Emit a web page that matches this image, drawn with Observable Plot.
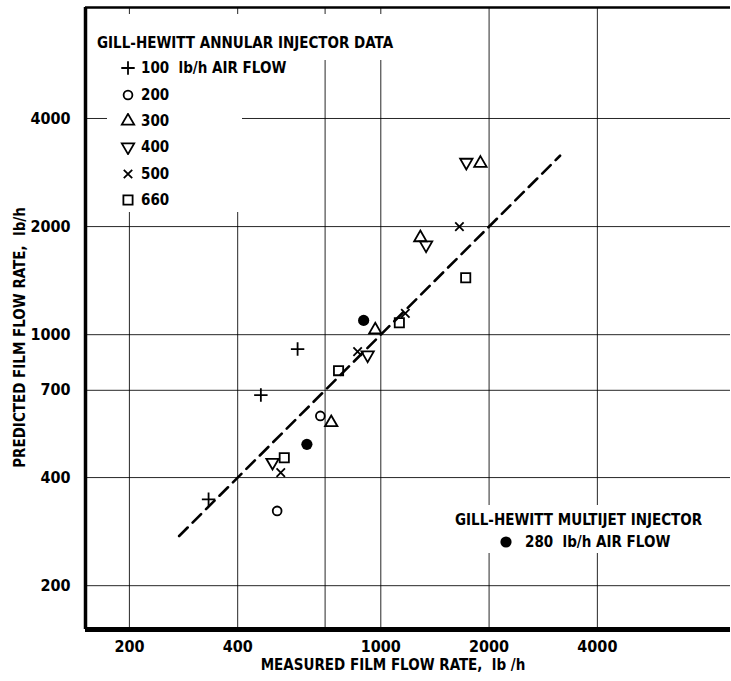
<!DOCTYPE html>
<html><head><meta charset="utf-8">
<script src="https://cdn.jsdelivr.net/npm/d3@7"></script>
<script src="https://cdn.jsdelivr.net/npm/@observablehq/plot@0.6"></script>
<style>
body{margin:0;background:#fff;}
#wrap{position:relative;width:731px;height:681px;font-family:"Liberation Sans Narrow","DejaVu Sans Condensed",sans-serif;font-weight:bold;color:#000;}
#wrap svg{position:absolute;left:0;top:0;}
.bg{position:absolute;background:#fff;}
.lt{position:absolute;white-space:nowrap;font-size:15px;line-height:16px;}
.row{position:absolute;white-space:nowrap;font-size:15px;line-height:16px;}
.row svg{position:absolute;}
</style></head><body><div id="wrap"></div>
<script>
// ---- data ----
const xTicks = [200, 400, 700, 1000, 2000, 4000];
const yTicks = [200, 400, 700, 1000, 2000, 4000];
const xDomain = [151, 9380];
const yDomain = [151, 8150];
const xTitle = "MEASURED FILM FLOW RATE,  lb /h";
const yTitle = "PREDICTED FILM FLOW RATE,  lb/h";

const annularTitle = "GILL-HEWITT ANNULAR INJECTOR DATA";
const annularUnit = "lb/h AIR FLOW";
const annularFlows = [100, 200, 300, 400, 500, 660];
const annularMeasured = [
  [332, 464, 587],
  [515, 679],
  [728, 965, 1288, 1892],
  [500, 919, 1336, 1729],
  [527, 862, 1170, 1654],
  [539, 763, 1126, 1722]
];
const annularPredicted = [
  [348, 679, 912],
  [323, 594],
  [569, 1031, 1863, 3001],
  [441, 878, 1778, 3020],
  [413, 897, 1146, 2000],
  [454, 794, 1080, 1441]
];

const multijetTitle = "GILL-HEWITT MULTIJET INJECTOR";
const multijetFlow = 280;
const multijetMeasured = [623, 896];
const multijetPredicted = [495, 1096];

const fitRange = [275, 3150]; // predicted = measured line

// ---- symbols ----
const triDown = {
  draw(ctx, size) {
    const y = -Math.sqrt(size / (3 * Math.sqrt(3)));
    const s = Math.sqrt(3);
    ctx.moveTo(0, -2 * y);
    ctx.lineTo(s * y, y);
    ctx.lineTo(-s * y, y);
    ctx.closePath();
  }
};
const symbolStyles = [
  {symbol: d3.symbolPlus, r: 4.4},
  {symbol: d3.symbolCircle, r: 4.4},
  {symbol: d3.symbolTriangle, r: 4.6},
  {symbol: triDown, r: 4.6},
  {symbol: d3.symbolTimes, r: 3.9},
  {symbol: d3.symbolSquare, r: 5.2}
];

const annularRows = annularFlows.map((f, i) =>
  annularMeasured[i].map((m, j) => ({flow: f, measured: m, predicted: annularPredicted[i][j]})));
const multijetRows = multijetMeasured.map((m, j) => ({flow: multijetFlow, measured: m, predicted: multijetPredicted[j]}));
const fitRows = fitRange.map(v => ({measured: v, predicted: v}));

const gridStyle = {stroke: "#000", strokeOpacity: 0.85, strokeWidth: 1};

const plot = Plot.plot({
  width: 731,
  height: 681,
  marginLeft: 85,
  marginRight: 1,
  marginTop: 7,
  marginBottom: 52,
  x: {type: "log", domain: xDomain},
  y: {type: "log", domain: yDomain},
  style: {fontFamily: '"Liberation Sans Narrow","DejaVu Sans Condensed",sans-serif', fontWeight: "bold", fontSize: "16px", background: "white", color: "#000"},
  marks: [
    Plot.gridX(xTicks, gridStyle),
    Plot.gridY(yTicks, gridStyle),
    Plot.ruleX([xDomain[0]], {strokeWidth: 3.5}),
    Plot.ruleY([yDomain[0]], {strokeWidth: 5}),
    Plot.ruleY([yDomain[1]], {strokeWidth: 2.5}),
    Plot.axisX(xTicks, {tickSize: 0, tickPadding: 11, tickFormat: d => String(d), label: null}),
    Plot.axisY(yTicks, {tickSize: 0, tickPadding: 15, tickFormat: d => String(d), label: null}),
    Plot.line(fitRows, {x: "measured", y: "predicted", strokeWidth: 2.6, strokeDasharray: "12,7"}),
    ...annularRows.map((rows, i) => Plot.dot(rows, {
      x: "measured", y: "predicted", symbol: symbolStyles[i].symbol, r: symbolStyles[i].r,
      fill: "none", stroke: "#000", strokeWidth: 1.8
    })),
    Plot.dot(multijetRows, {x: "measured", y: "predicted", r: 5.6, fill: "#000", stroke: "none"}),
    Plot.text([xTitle], {frameAnchor: "bottom", dy: 40, dx: -15, fontSize: 15}),
    Plot.text([yTitle], {frameAnchor: "left", textAnchor: "middle", rotate: -90, dx: -65, dy: 19, fontSize: 15})
  ]
});

const wrap = document.getElementById("wrap");
wrap.appendChild(plot);

function symSvg(sym, r, filled) {
  const d = d3.symbol().type(sym).size(Math.PI * r * r)();
  return `<svg width="16" height="16" viewBox="-8 -8 16 16" style="left:-8px;top:-8px"><path d="${d}" fill="${filled ? "#000" : "none"}" stroke="${filled ? "none" : "#000"}" stroke-width="1.8"/></svg>`;
}

// Annular legend
let html = "";
html += `<div class="bg" style="left:92px;top:14px;width:303px;height:46px"></div>`;
html += `<div class="bg" style="left:107px;top:25px;width:135px;height:187px"></div>`;
html += `<div class="lt" style="left:97px;top:35px">${annularTitle}</div>`;
annularFlows.forEach((f, i) => {
  const cy = 68.3 + 26.34 * i;
  html += `<div class="row" style="left:128px;top:${cy}px">${symSvg(symbolStyles[i].symbol, symbolStyles[i].r, false)}</div>`;
  html += `<div class="row" style="left:141px;top:${cy - 8}px">${f}${i === 0 ? "&nbsp; " + annularUnit : ""}</div>`;
});
// Multijet legend
html += `<div class="bg" style="left:450px;top:505px;width:262px;height:48px"></div>`;
html += `<div class="lt" style="left:455px;top:512px">${multijetTitle}</div>`;
html += `<div class="row" style="left:506px;top:542px">${symSvg(d3.symbolCircle, 5.6, true)}</div>`;
html += `<div class="row" style="left:525px;top:534px">${multijetFlow}&nbsp; ${annularUnit}</div>`;
const leg = document.createElement("div");
leg.innerHTML = html;
wrap.appendChild(leg);
</script></body></html>
